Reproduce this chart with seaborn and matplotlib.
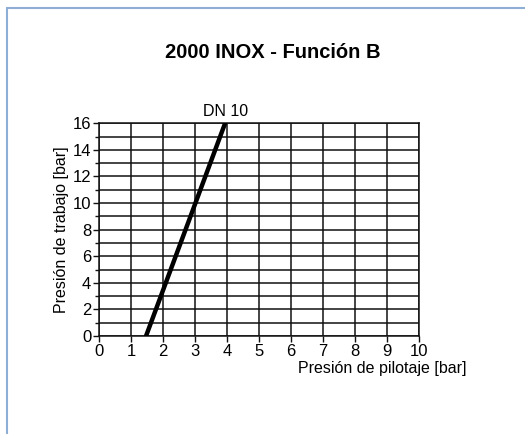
import matplotlib
matplotlib.use("Agg")
import matplotlib.pyplot as plt
import seaborn as sns
import pandas as pd
from matplotlib.lines import Line2D

# Data
pilot_pressure = [1.47, 3.94]   # Presión de pilotaje [bar]
work_pressure = [0, 16]         # Presión de trabajo [bar]
series_label = "DN 10"
x_ticks = list(range(0, 11))
y_ticks = list(range(0, 17, 2))
y_minor = list(range(0, 17))

df = pd.DataFrame({"x": pilot_pressure, "y": work_pressure})

sns.set_theme(style="white")
plt.rcParams['font.family'] = ['Liberation Sans', 'DejaVu Sans']

W, H = 525, 434
fig = plt.figure(figsize=(W / 100, H / 100), dpi=100)
fig.patch.set_facecolor("white")

left, right, bottom, top = 99, 419, 336, 123.3
ax = fig.add_axes([left / W, 1 - bottom / H, (right - left) / W, (bottom - top) / H])
ax.set_facecolor("white")

sns.lineplot(data=df, x="x", y="y", ax=ax, color="black", linewidth=3.2, zorder=5)

ax.set_xlim(0, 10)
ax.set_ylim(0, 16)
ax.set_xticks(x_ticks)
ax.set_yticks(y_ticks)
ax.set_yticks(y_minor, minor=True)
ax.grid(True, which="both", axis="both", color="#111111", linewidth=1.1)
ax.set_axisbelow(True)
for s in ax.spines.values():
    s.set_color("#111111")
    s.set_linewidth(1.1)

ax.tick_params(axis="both", which="major", direction="out", length=4, width=1,
               color="#111111", labelsize=12, labelcolor="black", pad=1.5,
               left=True, bottom=True)
ax.tick_params(axis="y", which="minor", direction="out", length=3, width=1,
               color="#111111", left=True)

ax.set_xlabel("")
ax.set_ylabel("Presión de trabajo [bar]", fontsize=11.5, color="black", labelpad=3)

fig.text(466 / W, 1 - 369 / H, "Presión de pilotaje [bar]", ha="right", va="center",
         fontsize=11.5, color="black")

ax.text(pilot_pressure[-1], 16.35, series_label, ha="center", va="bottom",
        fontsize=11.5, color="black", clip_on=False)

fig.text(272.5 / W, 1 - 52 / H, "2000 INOX - Función B", ha="center", va="center",
         fontsize=14.5, fontweight="bold", color="black")

# light blue frame lines (top and left)
border = "#8eaed6"
fig.add_artist(Line2D([7 / W, 1], [1 - 8 / H, 1 - 8 / H], color=border, linewidth=1.5,
                      transform=fig.transFigure))
fig.add_artist(Line2D([7 / W, 7 / W], [0, 1 - 8 / H], color=border, linewidth=1.5,
                      transform=fig.transFigure))

fig.savefig("out.png", dpi=100, facecolor="white")
